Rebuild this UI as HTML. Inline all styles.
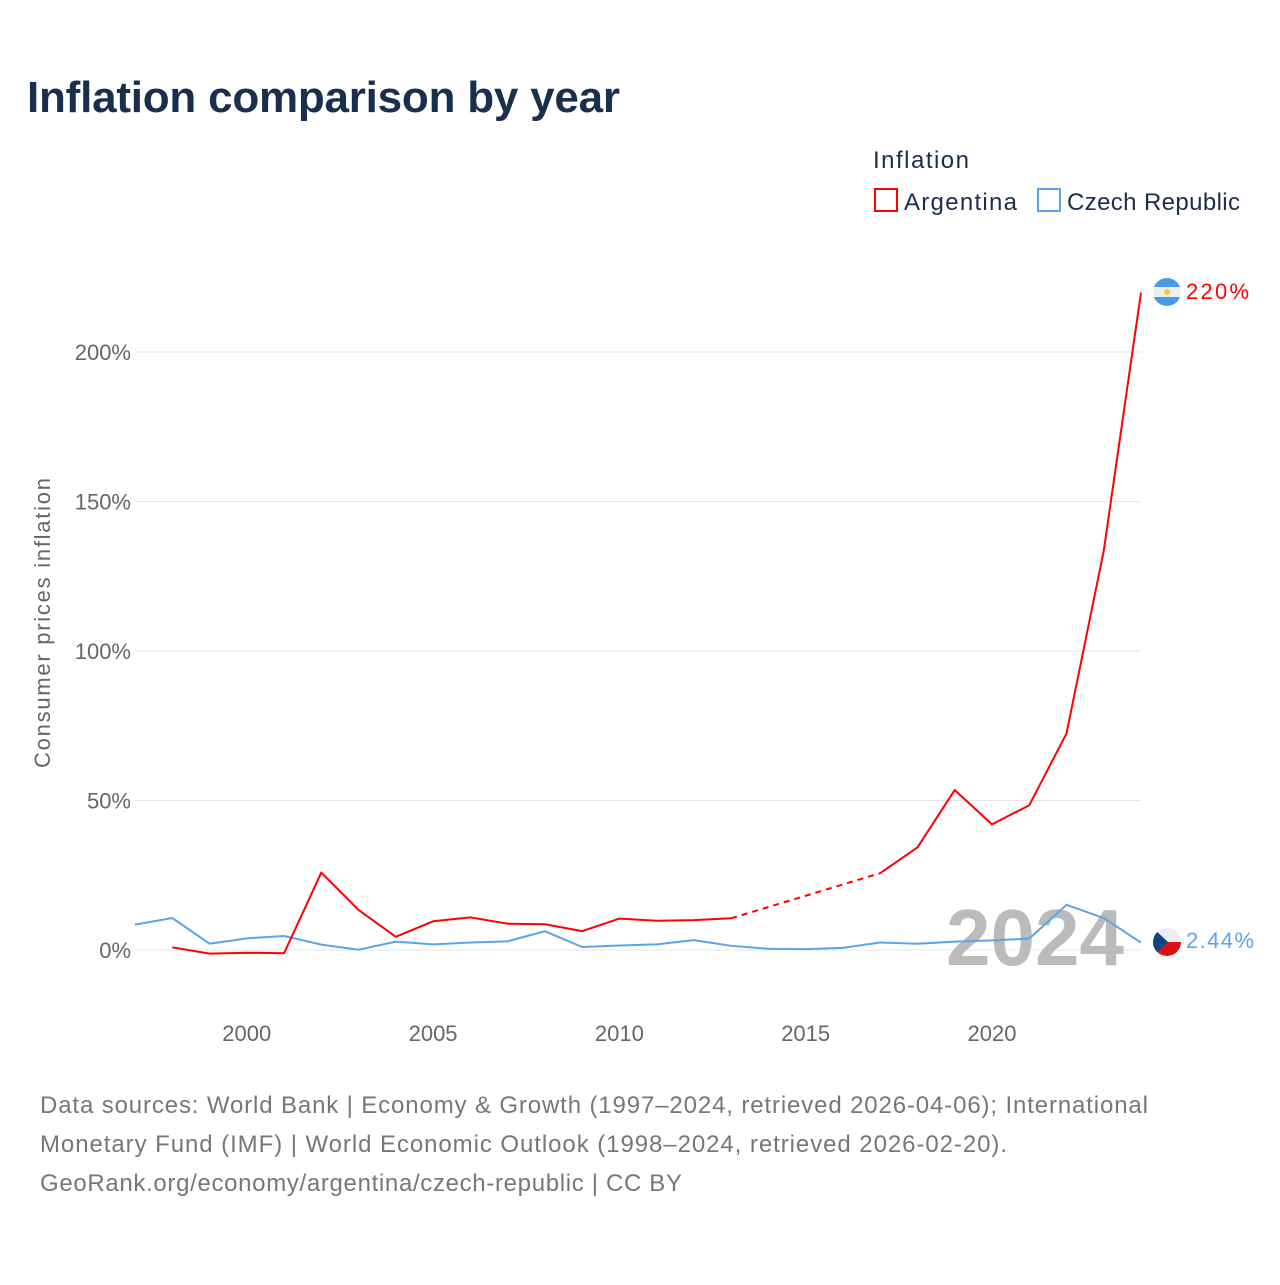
<!DOCTYPE html>
<html><head><meta charset="utf-8"><style>
body{margin:0;background:#fff;width:1280px;height:1280px;overflow:hidden;font-family:"Liberation Sans",sans-serif}
</style></head><body>
<svg width="1280" height="1280" font-family="Liberation Sans, sans-serif">
<text x="27" y="112" font-size="44" font-weight="bold" fill="#1a2e4e" textLength="593">Inflation comparison by year</text>
<g>
<text x="873" y="168" font-size="24" fill="#1a2e4e" textLength="96">Inflation</text>
<g><rect x="875" y="189" width="22" height="22" fill="#fff" stroke="#ff0000" stroke-width="2"/><text x="904" y="210" font-size="24" fill="#1a2e4e" textLength="113">Argentina</text></g>
<g><rect x="1038" y="189" width="22" height="22" fill="#fff" stroke="#5aa5ea" stroke-width="2"/><text x="1067" y="210" font-size="24" fill="#1a2e4e" textLength="173">Czech Republic</text></g>
</g>
<text transform="translate(50,623) rotate(-90)" text-anchor="middle" font-size="22" fill="#666" textLength="290">Consumer prices inflation</text>
<g id="grid"></g><g id="yt"></g><g id="xt"></g>
<text x="1035" y="965" text-anchor="middle" font-size="80" font-weight="bold" fill="#bbb">2024</text>
<g id="lines"></g>
<g><clipPath id="ca"><circle cx="1167" cy="292" r="14"/></clipPath><g clip-path="url(#ca)"><rect x="1153" y="278" width="28" height="28" fill="#eee"/><rect x="1153" y="278" width="28" height="9" fill="#4a9ae8"/><rect x="1153" y="297" width="28" height="9" fill="#4a9ae8"/><circle cx="1167" cy="292" r="3" fill="#f6c633"/></g></g>
<text x="1186" y="299" font-size="22" fill="#ff0000" textLength="63">220%</text>
<g><clipPath id="cc"><circle cx="1167" cy="942" r="14"/></clipPath><g clip-path="url(#cc)"><rect x="1153" y="928" width="28" height="14" fill="#eee"/><rect x="1153" y="942" width="28" height="14" fill="#d7141a"/><path d="M1153 928 L1168 942 L1153 956Z" fill="#11457e"/></g></g>
<text x="1186" y="948" font-size="22" fill="#5aa5ea" textLength="68">2.44%</text>
<text font-size="24" fill="#777"><tspan x="40" y="1113" textLength="1108">Data sources: World Bank | Economy &amp; Growth (1997–2024, retrieved 2026-04-06); International</tspan><tspan x="40" y="1152" textLength="967">Monetary Fund (IMF) | World Economic Outlook (1998–2024, retrieved 2026-02-20).</tspan><tspan x="40" y="1191" textLength="642">GeoRank.org/economy/argentina/czech-republic | CC BY</tspan></text>
</svg>
<script>
const years=[1997,1998,1999,2000,2001,2002,2003,2004,2005,2006,2007,2008,2009,2010,2011,2012,2013,2014,2015,2016,2017,2018,2019,2020,2021,2022,2023,2024];
const argentina=[null,0.9,-1.2,-0.9,-1.1,25.9,13.4,4.4,9.6,10.9,8.8,8.6,6.3,10.5,9.8,10.0,10.6,null,null,null,25.7,34.3,53.5,42.0,48.4,72.4,133.5,219.9];
const czech=[8.5,10.7,2.1,3.9,4.7,1.8,0.1,2.8,1.9,2.5,2.9,6.3,1.0,1.5,1.9,3.3,1.4,0.4,0.3,0.7,2.5,2.1,2.8,3.2,3.8,15.1,10.7,2.44];
const yTicks=[0,50,100,150,200];
const xTicks=[2000,2005,2010,2015,2020];
const X=y=>135+(y-1997)*(1141-135)/27;
const Y=v=>950-v*2.99;
const NS="http://www.w3.org/2000/svg";
function mk(t,a,p){const e=document.createElementNS(NS,t);for(const k in a)e.setAttribute(k,a[k]);p.appendChild(e);return e;}
const grid=document.getElementById('grid'),yt=document.getElementById('yt'),xt=document.getElementById('xt'),lines=document.getElementById('lines');
yTicks.forEach(v=>{const l=mk('line',{x1:135,x2:1141,y1:Y(v),y2:Y(v),stroke:'#e6e6e6','stroke-width':1},grid);


const t=mk('text',{x:131,y:Y(v)+8,'text-anchor':'end','font-size':22,fill:'#666'},yt);t.textContent=v+'%';

});
xTicks.forEach(v=>{const t=mk('text',{x:X(v),y:1041,'text-anchor':'middle','font-size':22,fill:'#666'},xt);t.textContent=v;

});
function draw(vals,color,name){let segs=[],cur=[],prev=null;
vals.forEach((v,i)=>{if(v==null){if(cur.length){segs.push(cur);prev=cur[cur.length-1];cur=[];}return;}
const p=[X(years[i]),Y(v)];
if(!cur.length&&prev){const d=mk('path',{d:'M'+prev+' L'+p,stroke:color,'stroke-width':2,fill:'none','stroke-dasharray':'6,5'},lines);

prev=null;}
cur.push(p);});
if(cur.length)segs.push(cur);
segs.forEach(s=>{const d=mk('path',{d:'M'+s.join(' L'),stroke:color,'stroke-width':2,fill:'none','stroke-linejoin':'round'},lines);

});}
draw(czech,'#5aa5ea','czech-republic');
draw(argentina,'#ff0000','argentina');
</script>
</body></html>
